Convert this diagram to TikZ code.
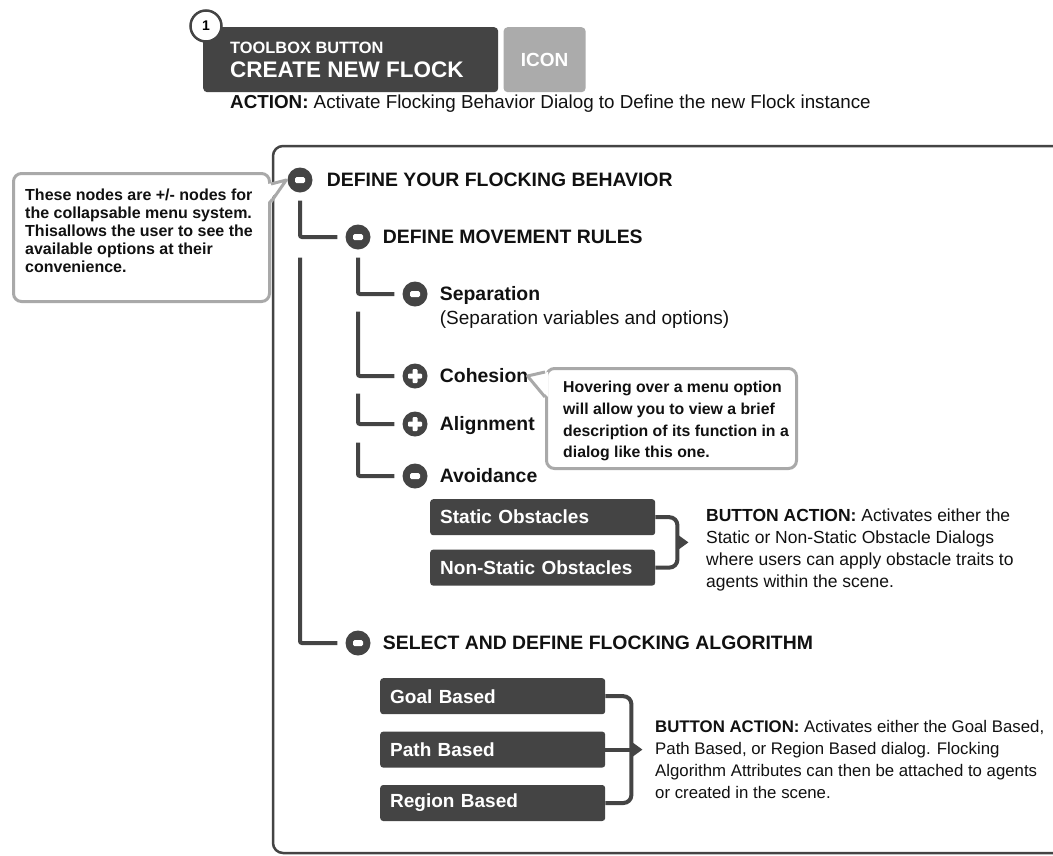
\documentclass[tikz,border=0pt]{standalone}
\usepackage{fontspec}
\setmainfont{Liberation Sans}
\usetikzlibrary{positioning,calc}

\definecolor{btngray}{HTML}{444444}
\definecolor{icongray}{HTML}{ABABAB}
\definecolor{notegray}{HTML}{A9A9A9}
\definecolor{txtblack}{HTML}{111111}

\tikzset{
  tree/.style={line width=4pt, draw=btngray, rounded corners=2pt},
  minus/.style={circle, fill=btngray, minimum size=25pt, inner sep=0pt,
    path picture={\fill[white, rounded corners=1.5pt]
      ([xshift=-5pt,yshift=-3pt]path picture bounding box.center) rectangle ++(10pt,6pt);}},
  plus/.style={circle, fill=btngray, minimum size=25pt, inner sep=0pt,
    path picture={\fill[white, rounded corners=1pt]
      ([xshift=-7pt,yshift=-2.5pt]path picture bounding box.center) rectangle ++(14pt,5pt);
      \fill[white, rounded corners=1pt]
      ([xshift=-2.5pt,yshift=-7pt]path picture bounding box.center) rectangle ++(5pt,14pt);}},
  head/.style={anchor=west, inner sep=0pt, text=txtblack, text height=13.8pt, text depth=0pt,
    font=\bfseries\fontsize{19.4}{22}\selectfont},
  plain/.style={anchor=west, inner sep=0pt, text=txtblack, font=\fontsize{19}{22}\selectfont},
  btn/.style={fill=btngray, rounded corners=3pt, text=white, minimum height=36pt,
    text width=205pt, inner xsep=10pt, align=left, font=\bfseries\fontsize{19}{22}\selectfont},
  notebox/.style={draw=notegray, line width=3pt, fill=white, rounded corners=8pt},
  notetext/.style={anchor=north west, inner sep=0pt, align=left, text=txtblack},
  noteline/.style={draw=notegray, line width=3pt, line join=round},
  brk/.style={line width=4pt, draw=btngray, rounded corners=8pt},
  action/.style={anchor=west, inner sep=0pt, align=left, text=txtblack},
}

\begin{document}
\begin{tikzpicture}[x=1pt, y=-1pt]
\clip (0,0) rectangle (1053,855);
\fill[white] (0,0) rectangle (1053,855);

%%%% Toolbox button
\node[fill=btngray, rounded corners=4pt, anchor=north west, minimum width=295pt,
  minimum height=65pt] (toolbox) at (203,27) {};
\node[anchor=base west, inner sep=0pt, text=white, font=\bfseries\fontsize{16.4}{18}\selectfont]
  (tbsmall) at (230,53) {TOOLBOX BUTTON};
\node[anchor=base west, inner sep=0pt, text=white, font=\bfseries\fontsize{22.5}{24}\selectfont]
  (tbbig) at (230,77) {CREATE NEW FLOCK};
\node[fill=icongray, rounded corners=4pt, minimum width=82pt, minimum height=65pt, text=white,
  font=\bfseries\fontsize{19}{20}\selectfont, right=5pt of toolbox] (icon) {ICON};
\node[circle, draw=btngray, line width=2.5pt, fill=white, minimum size=31pt, inner sep=0pt,
  font=\bfseries\fontsize{14}{14}\selectfont] (num) at (206,26) {1};
\node[anchor=west, inner sep=0pt, text=txtblack, font=\fontsize{18.8}{22}\selectfont] (action) at (230,104)
  {\textbf{ACTION:} Activate Flocking Behavior Dialog to Define the new Flock instance};

%%%% Panel
\draw[line width=2.5pt, draw=btngray, rounded corners=10pt]
  (1090,146) -- (273,146) -- (273,853) -- (1090,853);

%%%% Tree nodes
\node[minus] (root) at (300,180) {};
\node[head, right=14pt of root] (rootlbl) {DEFINE YOUR FLOCKING BEHAVIOR};
\node[minus] (move) at (358,237) {};
\node[head, right=12pt of move] (movelbl) {DEFINE MOVEMENT RULES};
\node[minus] (sep) at (415,294) {};
\node[head, right=12pt of sep] (seplbl) {Separation};
\node[plain, at={([yshift=-26pt]seplbl.west)}] (sepnote) {(Separation variables and options)};
\node[plus] (coh) at (415,376) {};
\node[head, right=12pt of coh] (cohlbl) {Cohesion};
\node[plus] (align) at (415,424) {};
\node[head, right=12pt of align] (alignlbl) {Alignment};
\node[minus] (avoid) at (415,476) {};
\node[head, right=12pt of avoid] (avoidlbl) {Avoidance};
\node[minus] (sel) at (358,643) {};
\node[head, right=12pt of sel] (sellbl) {SELECT AND DEFINE FLOCKING ALGORITHM};

%%%% Tree lines
\draw[tree] ([yshift=-8pt]root.south) |- ([xshift=-8pt]move.west);
\draw[tree] ($(root.south |- move.south)+(0pt,-8pt)$) |- ([xshift=-8pt]sel.west);
\draw[tree] ([yshift=-8pt]move.south) |- ([xshift=-8pt]sep.west);
\draw[tree] ($(move.south |- sep.south)+(0pt,-5pt)$) |- ([xshift=-8pt]coh.west);
\draw[tree] ($(move.south |- coh.south)+(0pt,-5pt)$) |- ([xshift=-8pt]align.west);
\draw[tree] ($(move.south |- align.south)+(0pt,-6pt)$) |- ([xshift=-8pt]avoid.west);

%%%% Obstacle buttons
\node[btn, anchor=north west] (static) at (430,499) {Static Obstacles};
\node[btn, below=14pt of static] (nonstatic) {Non-Static Obstacles};
\draw[brk] (static.east) -| ($(nonstatic.east)+(22pt,0pt)$) -- (nonstatic.east);
\coordinate (obsmid) at ($(static.east)!0.5!(nonstatic.east)+(22pt,0pt)$);
\fill[btngray] ($(obsmid)+(0pt,8pt)$) -- ($(obsmid)+(11pt,0pt)$) -- ($(obsmid)+(0pt,-8pt)$) -- cycle;
\node[action, font=\fontsize{17.5}{22}\selectfont] (obsact) at (706,550)
  {\textbf{BUTTON ACTION:} Activates either the\\Static or Non-Static Obstacle Dialogs\\where users can apply obstacle traits to\\agents within the scene.};

%%%% Algorithm buttons
\node[btn, anchor=north west] (goalbtn) at (380,678) {Goal Based};
\node[btn, below=17pt of goalbtn] (pathbtn) {Path Based};
\node[btn, below=17pt of pathbtn] (regionbtn) {Region Based};
\draw[brk] (goalbtn.east) -| ($(regionbtn.east)+(26pt,0pt)$) -- (regionbtn.east);
\coordinate (algmid) at ($(pathbtn.east)+(26pt,0pt)$);
\draw[brk] (pathbtn.east) -- (algmid);
\fill[btngray] ($(algmid)+(0pt,8pt)$) -- ($(algmid)+(11pt,0pt)$) -- ($(algmid)+(0pt,-8pt)$) -- cycle;
\node[action, font=\fontsize{16.8}{22}\selectfont] (algact) at (655,759)
  {\textbf{BUTTON ACTION:} Activates either the Goal Based,\\Path Based, or Region Based dialog. Flocking\\Algorithm Attributes can then be attached to agents\\or created in the scene.};

%%%% Callouts
\node[notebox, anchor=north west, minimum width=256pt, minimum height=128pt] (hint1) at (12,172) {};
\node[notetext, font=\bfseries\fontsize{16}{18}\selectfont] (hint1txt) at (25,189)
  {These nodes are +/- nodes for\\the collapsable menu system.\\Thisallows the user to see the\\available options at their\\convenience.};
\fill[white] ([xshift=-3pt,yshift=-12pt]hint1.north east) -- ([xshift=-1pt]root.west)
  -- ([xshift=-3pt,yshift=-30pt]hint1.north east) -- cycle;
\draw[noteline] ([yshift=-12pt]hint1.north east) -- ([xshift=-1pt]root.west)
  -- ([yshift=-30pt]hint1.north east);

\node[notebox, anchor=north west, minimum width=250pt, minimum height=100pt] (hint2) at (545,367) {};
\node[notetext, font=\bfseries\fontsize{15.8}{21.7}\selectfont] (hint2txt) at (563,381)
  {Hovering over a menu option\\will allow you to view a brief\\description of its function in a\\dialog like this one.};
\fill[white] ([xshift=3pt,yshift=-5pt]hint2.north west) -- ([xshift=-1pt]cohlbl.east)
  -- ([xshift=3pt,yshift=-30pt]hint2.north west) -- cycle;
\draw[noteline] ([yshift=-5pt]hint2.north west) -- ([xshift=-1pt]cohlbl.east)
  -- ([yshift=-30pt]hint2.north west);
\end{tikzpicture}
\end{document}
